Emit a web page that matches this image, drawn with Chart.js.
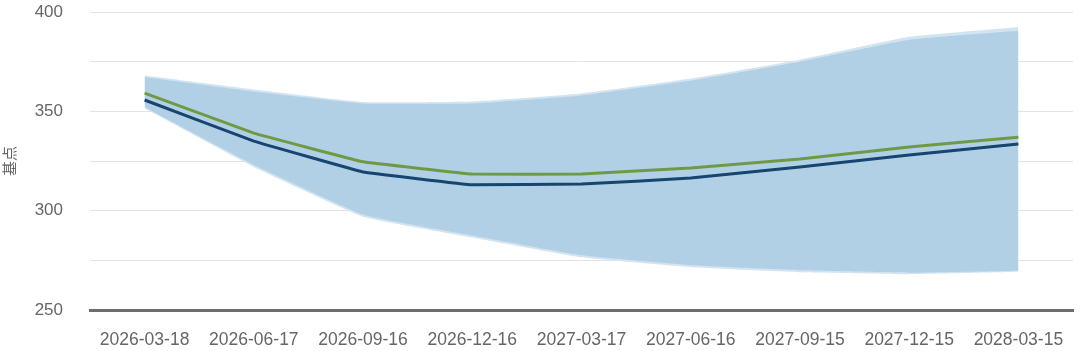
<!DOCTYPE html>
<html><head><meta charset="utf-8">
<script src="https://cdn.jsdelivr.net/npm/chart.js@4/dist/chart.umd.min.js"></script>
<style>html,body{margin:0;padding:0;background:#fff}#wrap{width:1080px;height:351px}</style>
</head><body><div id="wrap"><canvas id="c"></canvas></div>
<script>
const categories = ["2026-03-18","2026-06-17","2026-09-16","2026-12-16","2027-03-17","2027-06-16","2027-09-15","2027-12-15","2028-03-15"];
const seriesNavy = [355.7, 335, 319.5, 313, 313.4, 316.4, 322, 328, 333.5];
const seriesGreen = [359.2, 339, 324.6, 318.4, 318.4, 321.5, 326, 332, 337];
const outerUpper = [368, 361, 354.7, 355, 359, 366.5, 376, 387.5, 392.5];
const outerLower = [351.5, 322, 297, 286.5, 276.5, 271.5, 269, 268, 269.2];
const innerUpper = [367.3, 360, 354, 354, 358, 365.5, 375, 386, 390.5];
const innerLower = [352, 323, 298, 287.5, 277.5, 272.5, 270, 268.8, 269.8];
const yTickLabels = {250:"250",300:"300",350:"350",400:"400"};

new Chart(document.getElementById('c'), {
  type: 'line',
  data: {
    labels: categories,
    datasets: [
      {data: seriesNavy, borderColor:'#16456f', borderWidth:3, pointRadius:0, tension:0.05, fill:false},
      {data: seriesGreen, borderColor:'#6f9a45', borderWidth:3, pointRadius:0, tension:0.05, fill:false},
      {data: innerUpper, borderColor:'rgba(0,0,0,0)', borderWidth:0, pointRadius:0, tension:0.1, fill:{target:'+1'}, backgroundColor:'#b2d0e5'},
      {data: innerLower, borderColor:'rgba(0,0,0,0)', borderWidth:0, pointRadius:0, tension:0.1, fill:false},
      {data: outerUpper, borderColor:'rgba(0,0,0,0)', borderWidth:0, pointRadius:0, tension:0.1, fill:{target:'+1'}, backgroundColor:'#d3e4f1'},
      {data: outerLower, borderColor:'rgba(0,0,0,0)', borderWidth:0, pointRadius:0, tension:0.1, fill:false}
    ]
  },
  options: {
    responsive:true, maintainAspectRatio:false, animation:false,
    layout:{padding:{top:12, right:7, left:0, bottom:0}},
    plugins:{legend:{display:false}, tooltip:{enabled:false}},
    scales:{
      x:{
        offset:true,
        afterFit(s){ s.height = 41; },
        grid:{display:false},
        border:{display:true, color:'#6e6e6e', width:3},
        ticks:{color:'#666', font:{family:'Liberation Sans, Arial', size:17.5}, maxRotation:0, autoSkip:false, padding:12}
      },
      y:{
        min:250, max:400,
        afterFit(s){ s.width = 90; },
        title:{display:true, text:'基点', color:'#666', font:{family:'Noto Sans CJK SC', size:15}, padding:{top:0,bottom:12}},
        border:{display:false},
        grid:{color:(ctx)=> ctx.tick && ctx.tick.value===250 ? 'rgba(0,0,0,0)' : '#e3e3e3', lineWidth:1, drawTicks:true, tickLength:27, tickColor:'rgba(0,0,0,0)'},
        ticks:{stepSize:25, padding:0, color:'#666', font:{family:'Liberation Sans, Arial', size:17},
          callback:(v)=> yTickLabels[v] || ''}
      }
    }
  }
});
</script>
</body></html>
